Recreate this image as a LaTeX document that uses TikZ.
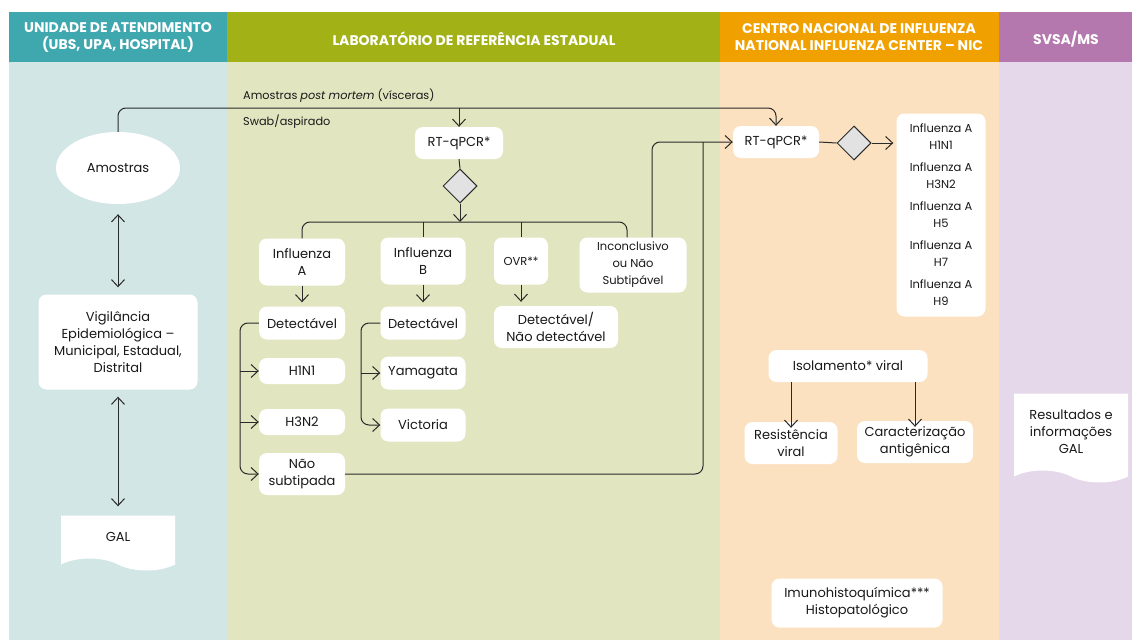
\documentclass[tikz,border=0pt]{standalone}
\usepackage{fontspec}
\setmainfont{Poppins}
\usetikzlibrary{arrows.meta,shapes.geometric,shapes.symbols}

\definecolor{tealhead}{HTML}{3FA7AE}
\definecolor{tealbody}{HTML}{D3E6E6}
\definecolor{olivehead}{HTML}{A2B115}
\definecolor{olivebody}{HTML}{E2E6C0}
\definecolor{orangehead}{HTML}{F0A100}
\definecolor{orangebody}{HTML}{FBE1BF}
\definecolor{purplehead}{HTML}{B578AE}
\definecolor{purplebody}{HTML}{E5D8EA}
\definecolor{linecol}{HTML}{2A2A2A}
\definecolor{diamondfill}{HTML}{E2E2E2}

\tikzset{
	box/.style={fill=white, rounded corners=8pt, align=center, inner sep=3pt, text=black!90, font=\fontsize{13}{17}\selectfont},
	smallbox/.style={box, font=\fontsize{11.5}{17}\selectfont},
	decision/.style={diamond, draw=linecol, fill=diamondfill, line width=1pt, minimum width=34pt, minimum height=34pt, inner sep=0pt},
	docbox/.style={tape, tape bend top=none, tape bend bottom=out and in, tape bend height=12pt, fill=white, align=center, text=black!90, font=\fontsize{13}{17}\selectfont},
	conn/.style={draw=linecol, line width=1pt, rounded corners=8pt},
	arr/.style={conn, -{Straight Barb[length=7pt,width=13pt]}},
	darr/.style={conn, {Straight Barb[length=7pt,width=13pt]}-{Straight Barb[length=7pt,width=13pt]}},
	headtext/.style={text=white, align=center, font=\bfseries\fontsize{14}{17}\selectfont},
	note/.style={anchor=west, inner sep=0pt, text=black!90, font=\fontsize{11.3}{13}\selectfont}
}

\begin{document}
\begin{tikzpicture}[x=1pt, y=-1pt]
	\useasboundingbox (0,0) rectangle (1132,640);

	% colunas
	\fill[tealbody] (9,62) rectangle (227,640);
	\fill[olivebody] (227,62) rectangle (720,640);
	\fill[orangebody] (720,62) rectangle (999,640);
	\fill[purplebody] (999,62) rectangle (1132,640);
	\fill[tealhead] (9,12) rectangle (227,62);
	\fill[olivehead] (227,12) rectangle (720,62);
	\fill[orangehead] (720,12) rectangle (999,62);
	\fill[purplehead] (999,12) rectangle (1132,62);

	\node[headtext] (hunit) at (118,37) {UNIDADE DE ATENDIMENTO\\(UBS, UPA, HOSPITAL)};
	\node[headtext] (hlab) at (474,39) {LABORATÓRIO DE REFERÊNCIA ESTADUAL};
	\node[headtext] (hnic) at (859,37) {CENTRO NACIONAL DE INFLUENZA\\NATIONAL INFLUENZA CENTER – NIC};
	\node[headtext] (hsvs) at (1066,39) {SVSA/MS};

	% unidade de atendimento
	\node[ellipse, fill=white, minimum width=124pt, minimum height=72pt, text=black!90, font=\fontsize{13}{17}\selectfont] (amostras) at (118,168) {Amostras};
	\node[box, minimum width=159pt, minimum height=95pt] (vigil) at (118,342) {Vigilância\\Epidemiológica –\\Municipal, Estadual,\\Distrital};
	\node[docbox, minimum width=114pt, minimum height=55pt] (gal) at (118,537) {GAL};

	\draw[darr] ([yshift=-10pt]amostras.south) -- ([yshift=7pt]vigil.north);
	\draw[darr] ([yshift=-7pt]vigil.south) -- ([yshift=9pt]gal.north);

	% laboratorio
	\node[note] (txtpm) at (243,96) {Amostras \textit{post mortem} (vísceras)};
	\node[note] (txtswab) at (243,122) {Swab/aspirado};

	\node[box, minimum width=88pt, minimum height=32pt] (rtlab) at (459,143) {RT-qPCR*};
	\node[decision] (declab) at (460,186) {};
	\node[box, minimum width=86pt, minimum height=47pt] (infa) at (302,262) {Influenza\\A};
	\node[box, minimum width=85pt, minimum height=47pt] (infb) at (423,261) {Influenza\\B};
	\node[smallbox, minimum width=54pt, minimum height=47pt] (ovr) at (521,261) {OVR**};
	\node[smallbox, minimum width=107pt, minimum height=55pt] (inconc) at (633,265) {Inconclusivo\\ou Não\\Subtipável};

	\node[box, minimum width=86pt, minimum height=33pt] (deta) at (302,323) {Detectável};
	\node[box, minimum width=86pt, minimum height=26pt] (h1n1) at (302,371) {H1N1};
	\node[box, minimum width=86pt, minimum height=26pt] (h3n2) at (302,422) {H3N2};
	\node[box, minimum width=86pt, minimum height=42pt] (naosub) at (302,474) {Não\\subtipada};
	\node[box, minimum width=85pt, minimum height=33pt] (detb) at (423,323) {Detectável};
	\node[box, minimum width=85pt, minimum height=33pt] (yama) at (423,373) {Yamagata};
	\node[box, minimum width=85pt, minimum height=33pt] (vict) at (423,425) {Victoria};
	\node[box, minimum width=124pt, minimum height=42pt] (detovr) at (556,327) {Detectável/\\Não detectável};

	% NIC
	\node[box, minimum width=86pt, minimum height=32pt] (rtnic) at (776,142) {RT-qPCR*};
	\node[decision] (decnic) at (854,143) {};
	\node[smallbox, minimum width=89pt, minimum height=203pt] (subtipos) at (941,215) {Influenza A\\H1N1\\[5pt]Influenza A\\H3N2\\[5pt]Influenza A\\H5\\[5pt]Influenza A\\H7\\[5pt]Influenza A\\H9};
	\node[box, minimum width=159pt, minimum height=32pt] (isol) at (848,366) {Isolamento* viral};
	\node[box, minimum width=93pt, minimum height=42pt] (resist) at (791,443) {Resistência\\viral};
	\node[box, minimum width=116pt, minimum height=42pt] (caract) at (915,442) {Caracterização\\antigênica};
	\node[box, minimum width=171pt, minimum height=49pt] (imuno) at (857,603) {Imunohistoquímica***\\Histopatológico};

	% SVSA
	\node[docbox, minimum width=114pt, minimum height=89pt] (result) at (1071,432) {Resultados e\\informações\\GAL};

	% conexoes
	\coordinate (topo) at (117,108);
	\draw[arr] (amostras.north) |- (topo -| rtnic.north) -- (rtnic.north);
	\draw[arr] (rtlab.north |- topo) -- (rtlab.north);
	\draw[conn] (rtlab.south) -- (declab.north);
	\coordinate (ramo) at (460,222);
	\draw[arr] (declab.south) -- (ramo);
	\draw[conn] (infa.north) |- (ramo) -| ([xshift=-6pt]inconc.north);
	\draw[conn] (infb.north |- ramo) -- (infb.north);
	\draw[conn] (ovr.north |- ramo) -- (ovr.north);

	\draw[arr, shorten >=4pt] (infa.south) -- (deta.north);
	\draw[arr, shorten >=4pt] (infb.south) -- (detb.north);
	\draw[arr, shorten >=4pt] (ovr.south) -- (ovr.south |- detovr.north);

	\coordinate (chava) at (240,0);
	\draw[arr] (deta.west) -| (chava |- naosub.west) -- (naosub.west);
	\draw[arr] (chava |- h1n1.west) -- (h1n1.west);
	\draw[arr] (chava |- h3n2.west) -- (h3n2.west);
	\coordinate (chavb) at (361,0);
	\draw[arr] (detb.west) -| (chavb |- vict.west) -- (vict.west);
	\draw[arr] (chavb |- yama.west) -- (yama.west);

	\coordinate (volta) at (703,0);
	\draw[arr] ([xshift=19pt]inconc.north) |- (rtnic.west);
	\draw[conn] (naosub.east) -| (volta |- rtnic.west);

	\draw[conn] (rtnic.east) -- (decnic.west);
	\draw[arr] (decnic.east) -- ([xshift=-3pt]subtipos.west |- decnic.east);
	\draw[arr] (isol.south -| resist.north) -- ([yshift=-6pt]resist.north);
	\draw[arr] (isol.south -| caract.north) -- ([yshift=-6pt]caract.north);
\end{tikzpicture}
\end{document}
